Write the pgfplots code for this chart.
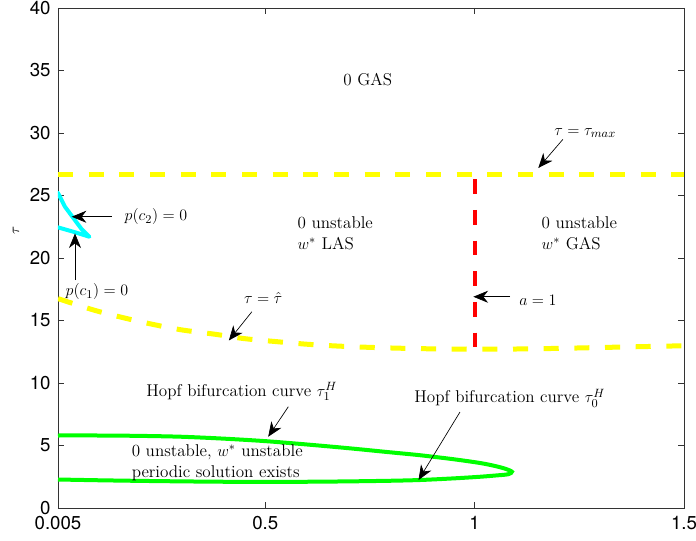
\documentclass[border=0pt]{standalone}
\usepackage{fontspec}
\newfontfamily\helv{TeX Gyre Heros}
\usepackage{pgfplots}
\pgfplotsset{compat=1.18}
\usetikzlibrary{arrows.meta,calc}
\definecolor{ylw}{rgb}{1,1,0}
\definecolor{cyn}{rgb}{0,1,1}
\definecolor{grn}{rgb}{0,1,0}
\definecolor{rd}{rgb}{1,0,0}
\newcommand{\afont}{\fontsize{12.8}{15.5}\selectfont}
\tikzset{ann/.style={-{Stealth[length=11pt,width=9pt,inset=3.5pt]}, line width=0.5pt, black}}
\begin{document}
\begin{tikzpicture}
\begin{axis}[name=ax, scale only axis, width=469.5pt, height=375pt,
  xmin=0.005, xmax=1.5, ymin=0, ymax=40,
  xtick={0.005,0.5,1,1.5}, xticklabels={0.005,0.5,1,1.5},
  ytick={0,5,...,40},
  tick align=inside, xtick pos=both, ytick pos=both,
  major tick length=4.5pt,
  axis line style={draw=black!80, line width=0.6pt},
  every tick/.style={black!80, line width=0.6pt},
  tick label style={font=\helv\fontsize{14}{16}\selectfont},
  xticklabel style={yshift=-3pt},
  yticklabel style={xshift=-2pt},
  /pgf/number format/assume math mode=true,
  clip=true,
]
% tau = tau_max
\addplot[ylw, line width=3.75pt, dash pattern=on 11.3pt off 11.7pt] coordinates {(0.005,26.65) (1.5,26.65)};
% tau = tau hat
\addplot[ylw, line width=3.75pt, dash pattern=on 11.3pt off 11.7pt, smooth] coordinates {
(0.005,16.75) (0.09,15.84) (0.16,15.23) (0.23,14.7) (0.3,14.25) (0.38,13.9) (0.45,13.55)
(0.53,13.3) (0.6,13.1) (0.67,12.96) (0.75,12.85) (0.85,12.76) (0.95,12.71) (1.0,12.7)
(1.1,12.72) (1.2,12.77) (1.3,12.84) (1.4,12.91) (1.5,12.98)};
% a = 1
\addplot[rd, line width=3.2pt, dash pattern=on 11pt off 12pt] coordinates {(1,26.3) (1,12.75)};
% p(c) curves
\addplot[cyn, line width=3pt, line join=round, line cap=round] coordinates {
(0.005,25.2) (0.0217,24.1) (0.0416,23.2) (0.0616,22.3) (0.08,21.7) (0.0416,22.1) (0.005,22.45)};
% Hopf curves
\addplot[grn, line width=3pt, smooth] coordinates {
(0.005,5.8) (0.1,5.8) (0.2,5.77) (0.3,5.7) (0.4,5.55) (0.5,5.35) (0.6,5.08) (0.7,4.78)
(0.8,4.45) (0.87,4.22) (0.95,3.9) (1.013,3.6) (1.05,3.35) (1.075,3.12) (1.089,2.9)
(1.08,2.7) (1.05,2.6) (1.013,2.5) (0.95,2.37) (0.87,2.24) (0.8,2.18) (0.7,2.13) (0.6,2.1)
(0.5,2.09) (0.4,2.1) (0.3,2.13) (0.2,2.17) (0.1,2.22) (0.005,2.28)};

% annotations
\node[font=\afont] at (axis cs:0.745,34.24) {0 GAS};
\node[font=\afont, align=left, anchor=west] at (axis cs:0.566,22.0) {0 unstable\\$w^*$ LAS};
\node[font=\afont, align=left, anchor=west] at (axis cs:1.149,22.0) {0 unstable\\$w^*$ GAS};
\node[font=\afont, align=left, anchor=west] at (axis cs:0.170,3.64) {0 unstable, $w^*$ unstable\\periodic solution exists};
\node[font=\afont] at (axis cs:1.264,30.0) {$\tau=\tau_{max}$};
\draw[ann] (axis cs:1.211,29.5) -- (axis cs:1.152,27.2);
\node[font=\afont] at (axis cs:1.151,16.6) {$a=1$};
\draw[ann] (axis cs:1.085,16.9) -- (axis cs:0.997,16.9);
\node[font=\afont] at (axis cs:0.495,16.8) {$\tau=\hat{\tau}$};
\draw[ann] (axis cs:0.468,15.7) -- (axis cs:0.413,13.4);
\node[font=\afont, anchor=west] at (axis cs:0.153,23.3) {$p(c_2)=0$};
\draw[ann] (axis cs:0.133,23.3) -- (axis cs:0.0377,23.3);
\node[font=\afont] at (axis cs:0.098,17.3) {$p(c_1)=0$};
\draw[ann] (axis cs:0.0456,18.24) -- (axis cs:0.0456,21.97);
\node[font=\afont] at (axis cs:0.444,9.3) {Hopf bifurcation curve $\tau_1^H$};
\draw[ann] (axis cs:0.555,8.1) -- (axis cs:0.507,5.7);
\node[font=\afont] at (axis cs:1.084,8.8) {Hopf bifurcation curve $\tau_0^H$};
\draw[ann] (axis cs:0.965,7.68) -- (axis cs:0.866,2.24);
\end{axis}
\node[rotate=90, font=\fontsize{11}{13}\selectfont] at ($(ax.south west)!0.556!(ax.north west)+(-31.5pt,0)$) {$\tau$};
\pgfresetboundingbox
\path (ax.south west) ++(-43.5pt,-24pt) rectangle ++(522pt,405pt);
\end{tikzpicture}
\end{document}
